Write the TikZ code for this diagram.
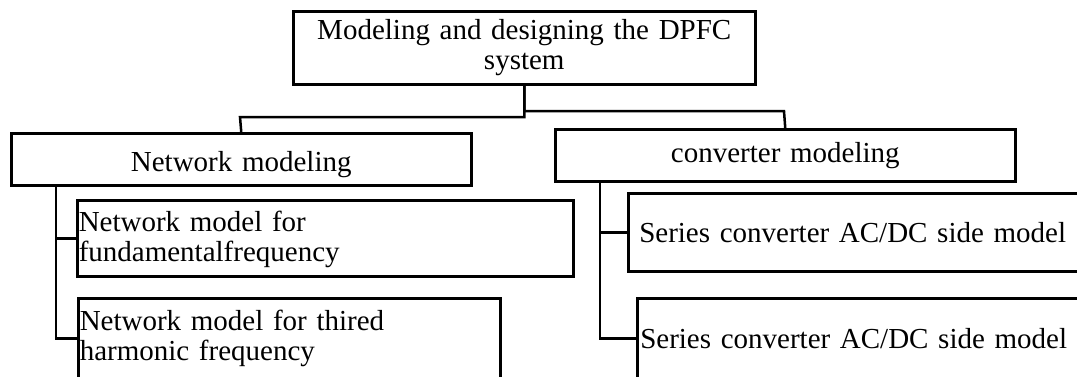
\documentclass[tikz,border=0pt]{standalone}
\usepackage{fontspec}
\setmainfont{Liberation Serif}
\usetikzlibrary{positioning,calc}
\newcommand{\padtop}[1]{\rule{0pt}{#1}}
\tikzset{
  block/.style={draw,rectangle,line width=2.5pt,anchor=north west,
    font=\fontsize{29}{30}\selectfont,inner ysep=0pt},
  head/.style={block,align=center,inner xsep=0pt},
  leaf/.style={block,align=left},
  link/.style={line width=2.5pt,draw=black}
}

\begin{document}
\begin{tikzpicture}[x=1pt,y=-1pt]
  \clip (0,0) rectangle (1077,376);
  \node[head, text width=462pt, minimum height=73pt] (sys) at (292,10)
    {Modeling and designing the DPFC\\system};
  \node[head, text width=460pt, minimum height=52pt] (netmod) at (10,132)
    {\padtop{30pt}Network modeling};
  \node[head, text width=460pt, minimum height=52pt] (convmod) at (554,128)
    {converter modeling};
  \node[leaf, inner xsep=1.5pt, text width=493pt, minimum height=76pt] (fund) at (76,199)
    {\padtop{23pt}Network model for\\fundamentalfrequency};
  \node[leaf, inner xsep=1.5pt, text width=419pt, minimum height=80pt] (third) at (77,297)
    {Network model for thired\\harmonic frequency};
  \node[leaf, inner xsep=11pt, text width=448pt, minimum height=78pt] (acdc) at (627,192)
    {Series converter AC/DC side model};
  \node[leaf, inner xsep=3pt, text width=454pt, minimum height=80pt] (acdcb) at (636,297)
    {Series converter AC/DC side model};
  % tree connectors
  \coordinate (jl) at (240,117);
  \coordinate (jr) at (784,111);
  \coordinate (lt) at ($(netmod.south west)+(46,0)$);
  \coordinate (rt) at ($(convmod.south west)+(46,0)$);
  \draw[link] (sys.south) |- (jl) -- (netmod.north);
  \draw[link] (sys.south) |- (jr) -- (convmod.north);
  \draw[link] (lt) |- (fund.west);
  \draw[link] (lt) |- (third.west);
  \draw[link] (rt) |- (acdc.west);
  \draw[link] (rt) |- (acdcb.west);
\end{tikzpicture}
\end{document}
